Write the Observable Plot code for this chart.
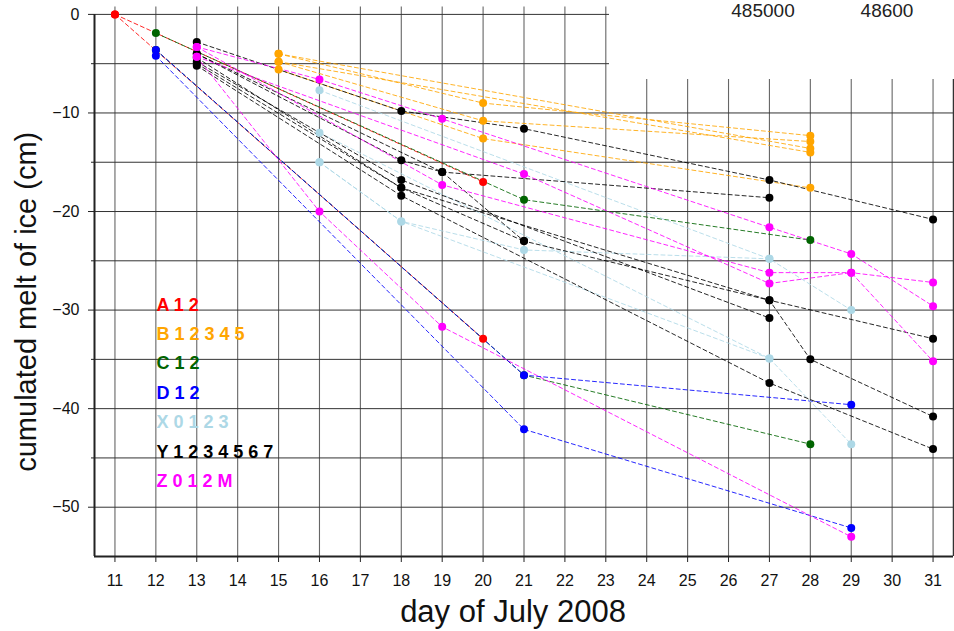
<!DOCTYPE html>
<html>
<head>
<meta charset="utf-8">
<script src="https://cdn.jsdelivr.net/npm/d3@7"></script>
<script src="https://cdn.jsdelivr.net/npm/@observablehq/plot@0.6"></script>
<style>
  body { margin: 0; background: #fff; }
  #wrap { position: relative; width: 954px; height: 631px; overflow: hidden; }
</style>
</head>
<body>
<div id="wrap"></div>
<script>
// ---- tick labels / categories ----
const dayTicks = [11,12,13,14,15,16,17,18,19,20,21,22,23,24,25,26,27,28,29,30,31];
const yTickValues = [0,-10,-20,-30,-40,-50];
const yGridValues = [0,-5,-10,-15,-20,-25,-30,-35,-40,-45,-50];
const yMinorValues = [-5,-15,-25,-35,-45];
const groups = ["A","B","C","D","X","Y","Z"];
const groupColors = ["#ff0000","#ffa500","#006400","#0000ff","#add8e6","#000000","#ff00ff"];
const legendLabels = ["A 1 2","B 1 2 3 4 5","C 1 2","D 1 2","X 0 1 2 3","Y 1 2 3 4 5 6 7","Z 0 1 2 M"];
const xLabel = "day of July 2008";
const yLabel = "cumulated melt of ice (cm)";
const cornerLabels = ["485000","48600"];

// ---- series: [day of July, cumulated melt (cm)] ----
const A1 = [[11,0],[20,-17.0]];
const A2 = [[11,0],[20,-32.9]];
const B1 = [[15,-4.0],[20,-9.0],[28,-12.3]];
const B2 = [[15,-4.8],[20,-10.8],[28,-12.9]];
const B3 = [[15,-5.6],[20,-12.6],[28,-17.6]];
const B4 = [[15,-4.0],[28,-13.6]];
const B5 = [[15,-4.8],[28,-14.0]];
const C1 = [[12,-1.9],[21,-18.8],[28,-22.9]];
const C2 = [[12,-3.6],[21,-36.6],[28,-43.6]];
const D1 = [[12,-3.6],[21,-36.6],[29,-39.6]];
const D2 = [[12,-4.2],[21,-42.1],[29,-52.1]];
const X0 = [[16,-7.7],[27,-24.8],[29,-30.0]];
const X1 = [[16,-12.0],[27,-34.9],[29,-43.6]];
const X2 = [[16,-15.0],[18,-21.0],[21,-23.9],[27,-24.8]];
const X3 = [[16,-15.0],[18,-21.0],[27,-34.9]];
const Y1 = [[13,-2.8],[18,-9.8],[21,-11.6],[27,-16.8],[31,-20.8]];
const Y2 = [[13,-4.0],[18,-14.8],[19,-16.0],[27,-18.6]];
const Y3 = [[13,-4.0],[19,-16.0],[21,-23.0],[27,-29.0],[31,-32.9]];
const Y4 = [[13,-4.8],[18,-16.8],[27,-30.8]];
const Y5 = [[13,-5.0],[18,-17.6],[27,-29.0],[28,-35.0],[31,-40.8]];
const Y6 = [[13,-5.2],[18,-18.4],[27,-37.4],[31,-44.1]];
const Y7 = [[13,-4.4],[18,-17.6],[21,-23.0]];
const Z0 = [[13,-3.3],[16,-6.6],[19,-10.6],[27,-21.6],[29,-24.3],[31,-29.6]];
const Z1 = [[13,-4.3],[21,-16.2],[27,-27.3],[29,-26.2],[31,-35.2]];
const Z2 = [[13,-3.3],[19,-17.3],[27,-26.2],[29,-26.2],[31,-27.2]];
const ZM = [[13,-4.3],[16,-20.0],[19,-31.7],[29,-53.0]];

// ---- build table ----
const seriesList = {A1,A2,B1,B2,B3,B4,B5,C1,C2,D1,D2,X0,X1,X2,X3,Y1,Y2,Y3,Y4,Y5,Y6,Y7,Z0,Z1,Z2,ZM};
const rows = Object.entries(seriesList).flatMap(([name, pts]) =>
  pts.map(([day, melt]) => ({series: name, group: name[0], day, melt})));

const xDomain = [10.5, 31.5];
const yDomain = [-55, 0.75];
const font = "'Liberation Sans', Arial, Helvetica, sans-serif";

const plot = Plot.plot({
  width: 954,
  height: 631,
  marginLeft: 94,
  marginRight: 1,
  marginTop: 6.5,
  marginBottom: 75,
  style: {fontFamily: font, fontSize: "16px", color: "#111", background: "#fff"},
  x: {domain: xDomain, label: null},
  y: {domain: yDomain, label: null},
  color: {domain: groups, range: groupColors},
  marks: [
    Plot.gridX(dayTicks, {stroke: "#666", strokeOpacity: 1, strokeWidth: 1.1}),
    Plot.gridY(yGridValues, {stroke: "#333", strokeOpacity: 1, strokeWidth: 1}),
    Plot.line(rows, {x: "day", y: "melt", z: "series", stroke: "group", strokeWidth: 0.85, strokeDasharray: "4,3"}),
    Plot.dot(rows, {x: "day", y: "melt", fill: "group", r: 4}),
    Plot.ruleX([xDomain[0]], {y1: yDomain[0], y2: 0, stroke: "#222", strokeWidth: 2}),
    Plot.ruleX([xDomain[1]], {stroke: "#333", strokeWidth: 1.5}),
    Plot.ruleY([yDomain[0]], {stroke: "#222", strokeWidth: 2}),
    Plot.axisX(dayTicks, {tickSize: 6, tickPadding: 12, tickFormat: d => String(d), fontSize: 16, label: null, stroke: "#222"}),
    Plot.axisY(yTickValues, {tickSize: 6, tickPadding: 9, fontSize: 16, label: null, stroke: "#222"}),
    Plot.axisY(yMinorValues, {tickSize: 3, tickFormat: () => "", label: null, stroke: "#222"}),
    Plot.text([yLabel], {frameAnchor: "left", textAnchor: "middle", rotate: -90, dx: -68, dy: 20, fontSize: 29, lineAnchor: "middle", fill: "#111"}),
    Plot.text([xLabel], {frameAnchor: "bottom", textAnchor: "middle", dx: -11, dy: 56, fontSize: 31, lineAnchor: "middle", fill: "#111"}),
    ...legendLabels.map((t, i) => Plot.text([t], {
      frameAnchor: "top-left", textAnchor: "start", lineAnchor: "bottom",
      dx: 62, dy: 303.5 + 29.45 * i,
      fill: groupColors[i], fontWeight: "bold", fontSize: 18
    }))
  ]
});

// overlapping panel remnant in the top-right corner
const svg = d3.select(plot);
svg.append("rect").attr("x", 609).attr("y", 0).attr("width", 345).attr("height", 79).attr("fill", "#fff");
svg.append("text").attr("x", 763).attr("y", 17).attr("font-size", 19).attr("fill", "#222").text(cornerLabels[0]);
svg.append("text").attr("x", 887).attr("y", 17).attr("font-size", 19).attr("fill", "#222").text(cornerLabels[1]);

document.getElementById("wrap").appendChild(plot);
</script>
</body>
</html>
